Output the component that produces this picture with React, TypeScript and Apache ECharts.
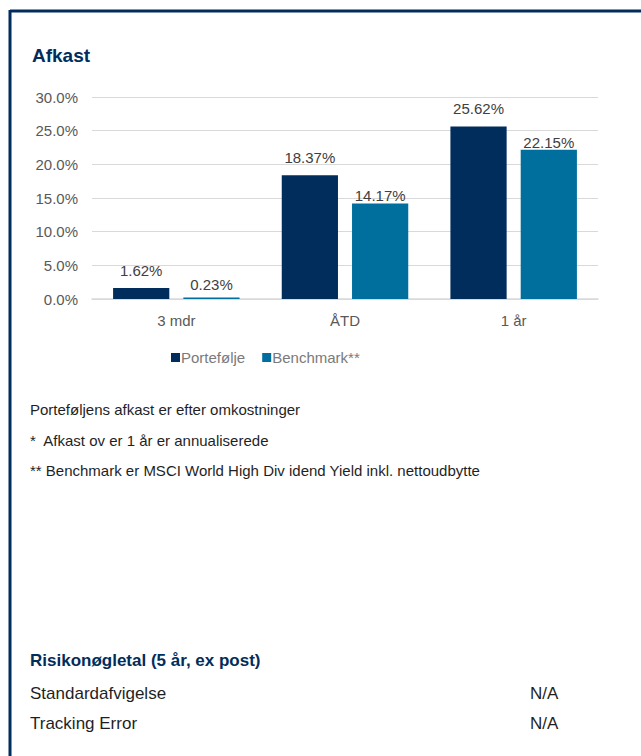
import React, { useEffect, useRef } from "react";
import * as echarts from "echarts";

const categories = ["3 mdr", "ÅTD", "1 år"];
const portefolje = [1.62, 18.37, 25.62];
const benchmark = [0.23, 14.17, 22.15];
const seriesNames = ["Portefølje", "Benchmark**"];
const yTicks = { min: 0, max: 30, interval: 5 };
const footnotes = [
  "Porteføljens afkast er efter omkostninger",
  "*  Afkast ov er 1 år er annualiserede",
  "** Benchmark er MSCI World High Div idend Yield inkl. nettoudbytte",
];
const riskTitle = "Risikonøgletal (5 år, ex post)";
const riskRows = [
  ["Standardafvigelse", "N/A"],
  ["Tracking Error", "N/A"],
];

const NAVY = "#002d5c";
const TEAL = "#006f9e";
const FONT = "'Liberation Sans', 'DejaVu Sans', sans-serif";
const benchLabelGaps = [5, 1, 0];

export default function App() {
  const ref = useRef<HTMLDivElement>(null);
  useEffect(() => {
    document.body.style.margin = "0";
    const chart = echarts.init(ref.current!, null, { renderer: "svg" });
    const labelStyle = (distance: number) => ({
      show: true,
      position: "top" as const,
      distance,
      color: "#404040",
      fontSize: 15,
      fontFamily: FONT,
      formatter: (p: any) => p.value.toFixed(2) + "%",
    });
    const graphics: any[] = [
      { type: "line", shape: { x1: 10, y1: 11, x2: 641, y2: 11 }, style: { stroke: NAVY, lineWidth: 3 } },
      { type: "line", shape: { x1: 10, y1: 10, x2: 10, y2: 756 }, style: { stroke: NAVY, lineWidth: 3 } },
      {
        type: "text", left: 32, top: 46,
        style: { text: "Afkast", fill: NAVY, font: `bold 19px ${FONT}` },
      },
    ];
    footnotes.forEach((t, i) => {
      graphics.push({
        type: "text", left: 30, top: 402 + i * 30.5,
        style: { text: t, fill: "#1f1f1f", font: `15px ${FONT}` },
      });
    });
    graphics.push({
      type: "text", left: 30, top: 652,
      style: { text: riskTitle, fill: NAVY, font: `bold 17px ${FONT}` },
    });
    riskRows.forEach((r, i) => {
      graphics.push({
        type: "text", left: 30, top: 685 + i * 30,
        style: { text: r[0], fill: "#1f1f1f", font: `17px ${FONT}` },
      });
      graphics.push({
        type: "text", left: 530, top: 685 + i * 30,
        style: { text: r[1], fill: "#1f1f1f", font: `17px ${FONT}` },
      });
    });
    chart.setOption({
      animation: false,
      backgroundColor: "#ffffff",
      textStyle: { fontFamily: FONT },
      grid: { left: 92, right: 43, top: 97, bottom: 457, containLabel: false },
      legend: {
        left: 171, top: 350, padding: 0,
        itemWidth: 9, itemHeight: 9, itemGap: 17,
        icon: "rect",
        textStyle: { color: "#7a7a7a", fontSize: 15, fontFamily: FONT, padding: [0, 0, 0, -4] },
        data: seriesNames,
      },
      xAxis: {
        type: "category",
        data: categories,
        axisTick: { show: false },
        axisLine: { lineStyle: { color: "#d9d9d9", width: 1.5 } },
        axisLabel: { color: "#595959", fontSize: 15, margin: 14, fontFamily: FONT },
      },
      yAxis: {
        type: "value",
        min: yTicks.min, max: yTicks.max, interval: yTicks.interval,
        axisLine: { show: false },
        axisTick: { show: false },
        splitLine: { lineStyle: { color: "#d9d9d9", width: 1 } },
        axisLabel: {
          color: "#595959", fontSize: 15, margin: 14, fontFamily: FONT,
          formatter: (v: number) => v.toFixed(1) + "%",
        },
      },
      series: [
        {
          name: seriesNames[0], type: "bar", data: portefolje,
          itemStyle: { color: NAVY }, barGap: "25%", barCategoryGap: "25%",
          label: labelStyle(10),
        },
        {
          name: seriesNames[1], type: "bar",
          data: benchmark.map((v, i) => ({ value: v, label: { distance: benchLabelGaps[i] } })),
          itemStyle: { color: TEAL }, barGap: "25%", barCategoryGap: "25%",
          label: labelStyle(2),
        },
      ],
      graphic: graphics,
    });
    return () => chart.dispose();
  }, []);
  return <div ref={ref} style={{ position: "absolute", left: 0, top: 0, width: 641, height: 756 }} />;
}
